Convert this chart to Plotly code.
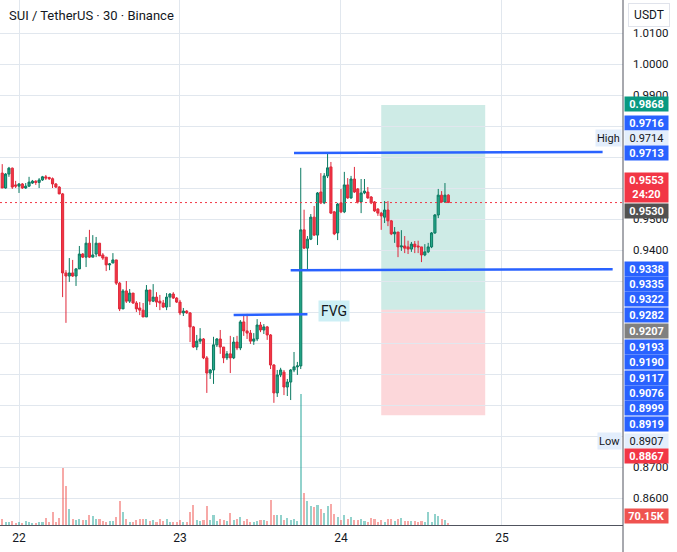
import pandas as pd
import plotly.graph_objects as go

# ---------------- data ----------------
first_bar = "2023-05-21 21:30"
bar_minutes = 30
opens = [0.9648, 0.9600, 0.9645, 0.9664, 0.9610,
         0.9606, 0.9613, 0.9600, 0.9606, 0.9616, 0.9622, 0.9618, 0.9626, 0.9636, 0.9634,
         0.9630, 0.9613, 0.9603, 0.9581, 0.9326, 0.9316, 0.9326, 0.9316, 0.9339, 0.9387,
         0.9377, 0.9422, 0.9377, 0.9387, 0.9422, 0.9384, 0.9377, 0.9352, 0.9358, 0.9368,
         0.9293, 0.9210, 0.9268, 0.9235, 0.9261, 0.9229, 0.9213, 0.9206, 0.9184, 0.9271,
         0.9235, 0.9248, 0.9235, 0.9229, 0.9216, 0.9248, 0.9258, 0.9245, 0.9232, 0.9197,
         0.9203, 0.9197, 0.9152, 0.9087, 0.9106, 0.9113, 0.9052, 0.9003, 0.9013, 0.9094,
         0.9113, 0.9087, 0.9052, 0.9065, 0.9052, 0.9103, 0.9084, 0.9168, 0.9139, 0.9132,
         0.9106, 0.9113, 0.9158, 0.9142, 0.9152, 0.9126, 0.9029, 0.8939, 0.8997, 0.9006,
         0.8958, 0.8974, 0.9013, 0.9023, 0.9026, 0.9465, 0.9406, 0.9435, 0.9506, 0.9448,
         0.9587, 0.9552, 0.9639, 0.9668, 0.9523, 0.9455, 0.9552, 0.9523, 0.9610, 0.9568,
         0.9629, 0.9597, 0.9555, 0.9584, 0.9587, 0.9571, 0.9555, 0.9532, 0.9519, 0.9506,
         0.9529, 0.9494, 0.9452, 0.9458, 0.9410, 0.9413, 0.9410, 0.9403, 0.9419, 0.9413,
         0.9410, 0.9384, 0.9394, 0.9410, 0.9455, 0.9513, 0.9577, 0.9555, 0.9577]
highs = [0.9677, 0.9648, 0.9668, 0.9666, 0.9623,
         0.9616, 0.9616, 0.9616, 0.9636, 0.9626, 0.9625, 0.9632, 0.9639, 0.9642, 0.9636,
         0.9634, 0.9616, 0.9606, 0.9584, 0.9335, 0.9374, 0.9368, 0.9342, 0.9413, 0.9390,
         0.9442, 0.9465, 0.9448, 0.9442, 0.9422, 0.9390, 0.9377, 0.9358, 0.9390, 0.9368,
         0.9297, 0.9274, 0.9300, 0.9274, 0.9261, 0.9235, 0.9232, 0.9229, 0.9287, 0.9271,
         0.9290, 0.9264, 0.9255, 0.9239, 0.9261, 0.9261, 0.9264, 0.9248, 0.9239, 0.9213,
         0.9206, 0.9200, 0.9155, 0.9126, 0.9148, 0.9116, 0.9058, 0.9016, 0.9120, 0.9116,
         0.9142, 0.9087, 0.9074, 0.9123, 0.9119, 0.9123, 0.9174, 0.9187, 0.9194, 0.9142,
         0.9132, 0.9177, 0.9168, 0.9161, 0.9155, 0.9129, 0.9032, 0.9013, 0.9020, 0.9013,
         0.8984, 0.9016, 0.9071, 0.9039, 0.9665, 0.9530, 0.9445, 0.9516, 0.9542, 0.9587,
         0.9648, 0.9648, 0.9714, 0.9684, 0.9526, 0.9552, 0.9597, 0.9652, 0.9632, 0.9639,
         0.9668, 0.9600, 0.9629, 0.9629, 0.9603, 0.9574, 0.9558, 0.9535, 0.9523, 0.9558,
         0.9558, 0.9497, 0.9474, 0.9458, 0.9464, 0.9445, 0.9430, 0.9426, 0.9429, 0.9430,
         0.9410, 0.9419, 0.9423, 0.9458, 0.9516, 0.9597, 0.9590, 0.9616, 0.9580]
lows = [0.9600, 0.9598, 0.9636, 0.9597, 0.9600,
        0.9584, 0.9597, 0.9597, 0.9603, 0.9613, 0.9610, 0.9600, 0.9623, 0.9626, 0.9626,
        0.9600, 0.9600, 0.9580, 0.9248, 0.9165, 0.9297, 0.9313, 0.9284, 0.9339, 0.9374,
        0.9345, 0.9374, 0.9377, 0.9377, 0.9381, 0.9368, 0.9332, 0.9335, 0.9358, 0.9287,
        0.9203, 0.9210, 0.9229, 0.9229, 0.9226, 0.9200, 0.9190, 0.9184, 0.9184, 0.9223,
        0.9232, 0.9216, 0.9206, 0.9213, 0.9206, 0.9216, 0.9242, 0.9229, 0.9190, 0.9187,
        0.9194, 0.9103, 0.9084, 0.9077, 0.9097, 0.9048, 0.8939, 0.8984, 0.8968, 0.9087,
        0.9065, 0.9035, 0.9045, 0.9003, 0.9048, 0.9077, 0.9077, 0.9123, 0.9113, 0.9097,
        0.9094, 0.9106, 0.9135, 0.9129, 0.9110, 0.9016, 0.8907, 0.8926, 0.8990, 0.8932,
        0.8929, 0.8916, 0.9006, 0.8997, 0.9016, 0.9403, 0.9335, 0.9432, 0.9445, 0.9416,
        0.9548, 0.9548, 0.9632, 0.9516, 0.9448, 0.9432, 0.9519, 0.9519, 0.9565, 0.9565,
        0.9584, 0.9550, 0.9519, 0.9580, 0.9565, 0.9548, 0.9523, 0.9510, 0.9465, 0.9487,
        0.9477, 0.9448, 0.9423, 0.9377, 0.9397, 0.9390, 0.9387, 0.9394, 0.9390, 0.9390,
        0.9361, 0.9380, 0.9390, 0.9406, 0.9452, 0.9503, 0.9552, 0.9552, 0.9553]
closes = [0.9600, 0.9645, 0.9664, 0.9603, 0.9606,
          0.9613, 0.9600, 0.9606, 0.9619, 0.9622, 0.9618, 0.9626, 0.9636, 0.9632, 0.9630,
          0.9613, 0.9603, 0.9581, 0.9326, 0.9316, 0.9326, 0.9316, 0.9339, 0.9387, 0.9377,
          0.9422, 0.9377, 0.9384, 0.9422, 0.9381, 0.9374, 0.9352, 0.9355, 0.9368, 0.9293,
          0.9210, 0.9268, 0.9235, 0.9261, 0.9229, 0.9210, 0.9206, 0.9184, 0.9271, 0.9235,
          0.9248, 0.9232, 0.9229, 0.9216, 0.9248, 0.9258, 0.9245, 0.9232, 0.9197, 0.9203,
          0.9197, 0.9152, 0.9087, 0.9106, 0.9113, 0.9052, 0.9003, 0.9013, 0.9094, 0.9113,
          0.9087, 0.9052, 0.9065, 0.9052, 0.9103, 0.9084, 0.9168, 0.9139, 0.9132, 0.9106,
          0.9113, 0.9158, 0.9142, 0.9152, 0.9126, 0.9029, 0.8939, 0.8997, 0.9013, 0.8958,
          0.8974, 0.9013, 0.9023, 0.9026, 0.9465, 0.9406, 0.9435, 0.9506, 0.9448, 0.9584,
          0.9552, 0.9639, 0.9665, 0.9519, 0.9452, 0.9548, 0.9523, 0.9610, 0.9568, 0.9629,
          0.9587, 0.9555, 0.9584, 0.9590, 0.9568, 0.9552, 0.9526, 0.9519, 0.9510, 0.9529,
          0.9494, 0.9452, 0.9458, 0.9410, 0.9413, 0.9406, 0.9403, 0.9419, 0.9410, 0.9410,
          0.9384, 0.9394, 0.9410, 0.9455, 0.9513, 0.9577, 0.9555, 0.9577, 0.9553]
volumes_k = [180, 99, 99, 120, 69,
             99, 69, 129, 99, 69, 69, 99, 99, 219, 99,
             399, 99, 219, 1719, 1179, 489, 189, 159, 189, 159,
             159, 309, 279, 189, 189, 129, 99, 129, 129, 249,
             729, 399, 189, 99, 99, 159, 189, 189, 189, 129,
             159, 99, 189, 129, 189, 99, 99, 99, 159, 99,
             99, 399, 609, 159, 129, 159, 579, 159, 309, 129,
             189, 159, 129, 369, 150, 180, 240, 120, 180, 90,
             90, 120, 150, 150, 120, 750, 300, 300, 300, 150,
             210, 150, 180, 120, 3930, 960, 720, 570, 540, 600,
             480, 360, 570, 630, 330, 240, 150, 300, 180, 240,
             150, 150, 180, 120, 90, 210, 180, 90, 150, 90,
             180, 180, 120, 180, 210, 120, 120, 120, 120, 90,
             120, 90, 390, 90, 330, 270, 180, 150, 70.15]

day_ticks = ["2023-05-22", "2023-05-23", "2023-05-24", "2023-05-25"]
day_labels = ["22", "23", "24", "25"]
price_ticks = [0.86, 0.87, 0.88, 0.89, 0.90, 0.91, 0.92, 0.93, 0.94, 0.95, 0.96, 0.97, 0.98, 0.99, 1.00, 1.01]
# scale ticks whose text is fully hidden behind price labels in the reference
hidden_ticks = [0.88, 0.89, 0.90, 0.91, 0.92, 0.93, 0.96, 0.97, 0.98]

# drawings
long_start, long_end = "2023-05-24 06:00", "2023-05-24 21:30"
long_entry, long_target, long_stop = 0.9207, 0.9868, 0.8867
line_top = (("2023-05-23 17:00", 0.9713), ("2023-05-25 15:00", 0.9716))
line_mid = (("2023-05-23 16:30", 0.9335), ("2023-05-25 16:30", 0.9338))
line_fvg = (("2023-05-23 08:00", 0.9190), ("2023-05-23 19:00", 0.9193))
fvg_label = ("2023-05-23 20:30", 0.9203, "FVG")
last_price = 0.9553

# right scale labels: text, background, text colour, display row (px from top)
scale_labels = [
    ("0.9868", "#089981", "#ffffff", 104),
    ("0.9716", "#2962ff", "#ffffff", 123),
    ("0.9714", "#e3eefc", "#131722", 138),
    ("0.9713", "#2962ff", "#ffffff", 153),
    ("0.9530", "#515151", "#ffffff", 211),
    ("0.9338", "#2962ff", "#ffffff", 269),
    ("0.9335", "#2962ff", "#ffffff", 284),
    ("0.9322", "#2962ff", "#ffffff", 299),
    ("0.9282", "#2962ff", "#ffffff", 315),
    ("0.9207", "#808080", "#ffffff", 331),
    ("0.9193", "#2962ff", "#ffffff", 347),
    ("0.9190", "#2962ff", "#ffffff", 362),
    ("0.9117", "#2962ff", "#ffffff", 378),
    ("0.9076", "#2962ff", "#ffffff", 393),
    ("0.8999", "#2962ff", "#ffffff", 408),
    ("0.8919", "#2962ff", "#ffffff", 424),
    ("0.8907", "#e3eefc", "#131722", 441),
    ("0.8867", "#f23645", "#ffffff", 456),
    ("70.15K", "#ef5350", "#ffffff", 516),
]
last_label = ("0.9553<br>24:20", "#f23645", 188)
tag_labels = [("High", 138), ("Low", 441)]

# ---------------- figure ----------------
W, H = 677, 552
M_R, M_B = 54, 27
PLOT_H = H - M_B

times = pd.date_range(first_bar, periods=len(opens), freq=f"{bar_minutes}min")
up_vol = "rgba(38,166,154,0.5)"
dn_vol = "rgba(239,83,80,0.5)"
vol_colors = [up_vol if c >= o else dn_vol for o, c in zip(opens, closes)]

fig = go.Figure()
fig.add_trace(go.Bar(x=times, y=volumes_k, marker=dict(color=vol_colors, line=dict(width=0)),
                     width=bar_minutes * 60 * 1000 * 0.62, yaxis="y2", hoverinfo="skip"))
fig.add_trace(go.Candlestick(
    x=times, open=opens, high=highs, low=lows, close=closes,
    increasing=dict(line=dict(color="#0b7a62", width=1), fillcolor="#26a98a"),
    decreasing=dict(line=dict(color="#e0283a", width=1), fillcolor="#f23645"),
    whiskerwidth=0, hoverinfo="skip", yaxis="y"))

y_lo = 0.86 - (PLOT_H - 498) / 3100
y_hi = 0.86 + 498 / 3100
x_lo = pd.Timestamp("2023-05-22") - pd.Timedelta(minutes=bar_minutes * 19 / 3.354)
x_hi = pd.Timestamp("2023-05-22") + pd.Timedelta(minutes=bar_minutes * (623 - 19) / 3.354)

shapes = [
    dict(type="rect", xref="x", yref="y", x0=long_start, x1=long_end, y0=long_entry, y1=long_target,
         fillcolor="rgba(8,153,129,0.2)", line=dict(width=0), layer="below"),
    dict(type="rect", xref="x", yref="y", x0=long_start, x1=long_end, y0=long_stop, y1=long_entry,
         fillcolor="rgba(242,54,69,0.2)", line=dict(width=0), layer="below"),
    dict(type="line", xref="paper", yref="y", x0=0, x1=1, y0=last_price, y1=last_price,
         line=dict(color="#f23645", width=1, dash="2px,3px")),
]
for (a, b) in (line_top, line_mid, line_fvg):
    shapes.append(dict(type="line", xref="x", yref="y", x0=a[0], y0=a[1], x1=b[0], y1=b[1],
                       line=dict(color="#2962ff", width=2.5)))
shapes.append(dict(type="line", xref="paper", yref="paper", x0=1, x1=1, y0=-M_B / PLOT_H, y1=1,
                   line=dict(color="#50535e", width=1)))

FONT = "Roboto, Liberation Sans, sans-serif"
ann = []
for text, bg, fg, row in scale_labels:
    ann.append(dict(xref="paper", yref="paper", x=1, y=1 - row / PLOT_H, xanchor="left", yanchor="middle",
                    xshift=1, text=text, showarrow=False, bgcolor=bg, width=43, height=14, borderpad=0,
                    font=dict(family=FONT, size=11, color=fg, weight="bold" if fg == "#ffffff" else "normal")))
ann.append(dict(xref="paper", yref="paper", x=1, y=1 - last_label[2] / PLOT_H, xanchor="left", yanchor="middle",
                xshift=1, text=last_label[0], showarrow=False, bgcolor=last_label[1], width=43, height=29,
                borderpad=0, font=dict(family=FONT, size=11, color="#ffffff", weight="bold")))
for text, row in tag_labels:
    ann.append(dict(xref="paper", yref="paper", x=1, y=1 - row / PLOT_H, xanchor="right", yanchor="middle",
                    xshift=-1, text=text, showarrow=False, bgcolor="#e3eefc", height=14, borderpad=1,
                    font=dict(family=FONT, size=11, color="#131722")))
ann.append(dict(xref="x", yref="y", x=fvg_label[0], y=fvg_label[1], xanchor="left", yanchor="middle",
                text=fvg_label[2], showarrow=False, bgcolor="#cdeff5", borderpad=2,
                font=dict(family=FONT, size=14, color="#131722")))
ann.append(dict(xref="paper", yref="paper", x=1, y=1 - 15 / PLOT_H, xanchor="left", yanchor="middle",
                xshift=5, text="USDT", showarrow=False, bgcolor="#ffffff", bordercolor="#e0e3eb",
                borderwidth=1, width=38, height=20, font=dict(family=FONT, size=12, color="#131722")))
ann.append(dict(xref="paper", yref="paper", x=0, y=1 - 16 / PLOT_H, xanchor="left", yanchor="middle",
                xshift=7, text="SUI / TetherUS · 30 · Binance", showarrow=False,
                font=dict(family=FONT, size=13, color="#131722")))

fig.update_layout(
    width=W, height=H, margin=dict(l=0, r=M_R, t=0, b=M_B),
    paper_bgcolor="#ffffff", plot_bgcolor="#ffffff",
    showlegend=False, hovermode=False, bargap=0, boxgap=0.25, boxgroupgap=0.15,
    shapes=shapes, annotations=ann,
    font=dict(family=FONT, size=11, color="#131722"),
    xaxis=dict(type="date", range=[x_lo, x_hi], tickvals=day_ticks, ticktext=day_labels,
               showgrid=True, gridcolor="#e1e7ee", gridwidth=1, showline=True, linecolor="#50535e",
               linewidth=1, ticks="", zeroline=False, rangeslider=dict(visible=False), fixedrange=True,
               tickfont=dict(size=12, color="#131722"), ticklabelstandoff=2),
    yaxis=dict(side="right", range=[y_lo, y_hi], tickvals=price_ticks,
               ticktext=["" if v in hidden_ticks else f"{v:.4f}" for v in price_ticks],
               showgrid=True, gridcolor="#e1e7ee",
               gridwidth=1, zeroline=False, showline=False, ticks="", ticklabelstandoff=9,
               tickfont=dict(size=11.5, color="#131722")),
    yaxis2=dict(overlaying="y", range=[0, PLOT_H * 30], visible=False, showgrid=False),
)

fig.write_html("out.html", config={"displayModeBar": False},
               post_script="document.body.style.margin='0';document.body.style.overflow='hidden';")
